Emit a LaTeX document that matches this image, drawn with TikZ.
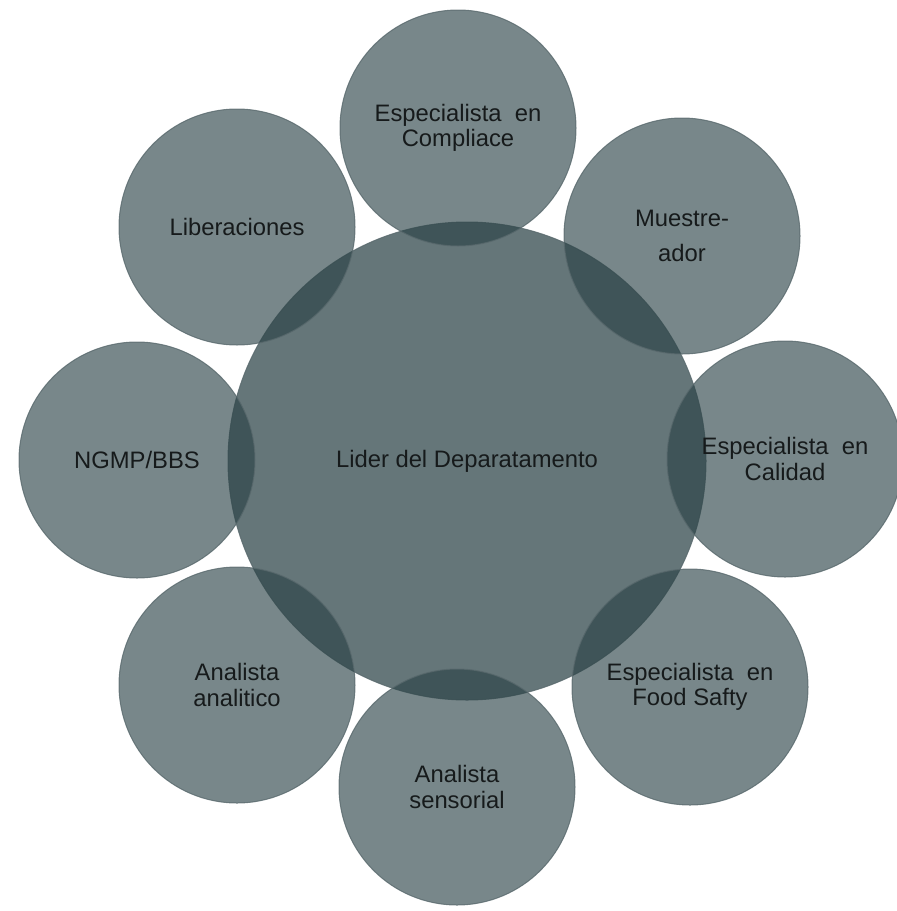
\documentclass[tikz,border=0pt]{standalone}
\usepackage{fontspec}
\setmainfont{Liberation Sans}
\definecolor{bubble}{RGB}{41,65,69}
\definecolor{rim}{RGB}{88,104,108}
\definecolor{ink}{RGB}{22,26,27}
\newcommand\lbl{\fontsize{23.8}{25.5}\selectfont}
\tikzset{sat/.style={circle, draw=rim, draw opacity=0.8, line width=1pt, fill=bubble, fill opacity=0.63, text opacity=1, text=ink, minimum size=236pt, inner sep=0pt, align=center, font=\lbl}}
\tikzset{hub/.style={sat, fill opacity=0.72, minimum size=478pt}}

\begin{document}
\begin{tikzpicture}[x=1pt,y=-1pt]
\useasboundingbox (0,0) rectangle (897,911);

\node[hub] (lider) at (467,461) {Lider del Deparatamento};

\node[sat] (compl) at (458,128) {Especialista\ \ en\\Compliace};
\node[sat] (mues) at (682,236) {Muestre-\\[9pt]ador};
\node[sat] (cal) at (785,459) {Especialista\ \ en\\Calidad};
\node[sat] (food) at (690,687) {Especialista\ \ en\\Food Safty};
\node[sat] (sens) at (457,787) {Analista\\sensorial};
\node[sat] (anal) at (237,685) {Analista\\analitico};
\node[sat] (ngmp) at (137,460) {NGMP/BBS};
\node[sat] (lib) at (237,227) {Liberaciones};

\end{tikzpicture}
\end{document}
